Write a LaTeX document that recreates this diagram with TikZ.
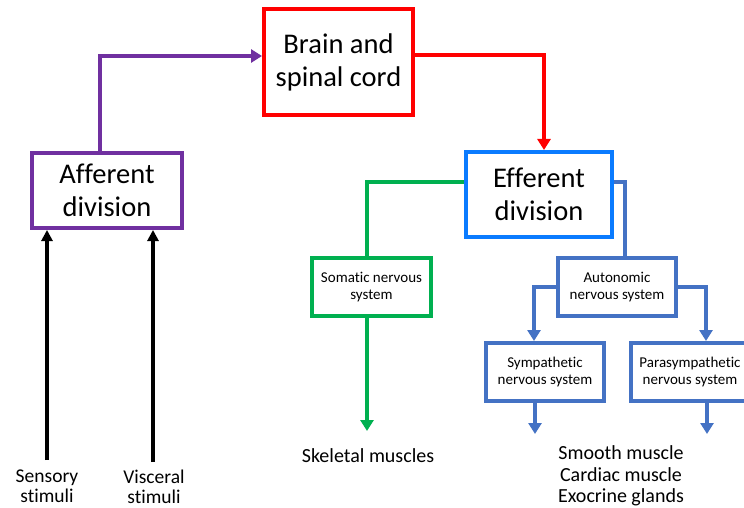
\documentclass[tikz,border=0pt]{standalone}
\usepackage{fontspec}
\setmainfont{Carlito}[Ligatures={NoCommon,NoRare,NoDiscretionary}]
\usetikzlibrary{arrows.meta}
\definecolor{cpurple}{HTML}{7030A0}
\definecolor{cred}{HTML}{FF0000}
\definecolor{cblue}{HTML}{0A7BFF}
\definecolor{cgreen}{HTML}{00B050}
\definecolor{cslate}{HTML}{4472C4}
\tikzset{
  bigbox/.style={draw, line width=4pt, align=center, inner sep=0pt, font=\fontsize{28.5}{33}\selectfont},
  smallbox/.style={draw, line width=4pt, align=center, inner sep=0pt, minimum width=118pt, minimum height=58pt, font=\fontsize{15}{17}\selectfont},
  conn/.style={line width=3.2pt, -{Triangle[width=13pt,length=11pt]}},
  plain/.style={line width=3.2pt},
  lab/.style={align=center, inner sep=0pt, font=\fontsize{20}{21.5}\selectfont},
}
\begin{document}
\begin{tikzpicture}[x=1pt,y=-1pt]
\clip (0,0) rectangle (744,508);
\fill[white] (0,0) rectangle (744,508);
% boxes
\node[bigbox, draw=cred, minimum width=149pt, minimum height=106pt] (brain) at (338.5,62) {Brain and\\spinal cord};
\node[bigbox, draw=cpurple, minimum width=150pt, minimum height=75pt] (aff) at (107,190.5) {Afferent\\division};
\node[bigbox, draw=cblue, minimum width=146pt, minimum height=85pt] (eff) at (539,194.5) {Efferent\\division};
\node[smallbox, draw=cgreen, minimum width=119pt] (som) at (371.5,287) {Somatic nervous\\system};
\node[smallbox, draw=cslate] (aut) at (617,287) {Autonomic\\nervous system};
\node[smallbox, draw=cslate] (sym) at (545,372) {Sympathetic\\nervous system};
\node[smallbox, draw=cslate] (para) at (690,372) {Parasympathetic\\nervous system};
% labels
\node[lab, font=\fontsize{19.5}{20}\selectfont] (sens) at (47,486) {Sensory\\stimuli};
\node[lab, font=\fontsize{19.5}{20}\selectfont] (visc) at (154,487) {Visceral\\stimuli};
\node[lab] (skel) at (368,456) {Skeletal muscles};
\node[lab] (smooth) at (621,476) {Smooth muscle\\Cardiac muscle\\Exocrine glands};
% free ends
\coordinate (sensend) at (47,460);
\coordinate (viscend) at (153,462);
\coordinate (skelend) at (367,431);
\coordinate (symend) at (535,434);
\coordinate (paraend) at (707,434);
% connectors
\draw[conn, cpurple] (aff.north -| 100,0) |- (brain.west |- 0,56);
\draw[conn, cred] (brain.east |- 0,55) -| (eff.north -| 544,0);
\draw[plain, cgreen] (eff.west |- 0,182) -| (som.north -| 367,0);
\draw[conn, cgreen] (som.south -| skelend) -- (skelend);
\draw[plain, cslate] (eff.east |- 0,182) -| (aut.north -| 625,0);
\draw[conn, cslate] (aut.west |- 0,287) -| (sym.north -| 534,0);
\draw[conn, cslate] (aut.east |- 0,287) -| (para.north -| 706,0);
\draw[conn, cslate] (sym.south -| symend) -- (symend);
\draw[conn, cslate] (para.south -| paraend) -- (paraend);
\draw[conn, black, line width=4pt, -{Triangle[width=11pt,length=11pt]}] (sensend) -- (aff.south -| sensend);
\draw[conn, black, line width=4pt, -{Triangle[width=11pt,length=11pt]}] (viscend) -- (aff.south -| viscend);
\end{tikzpicture}
\end{document}
